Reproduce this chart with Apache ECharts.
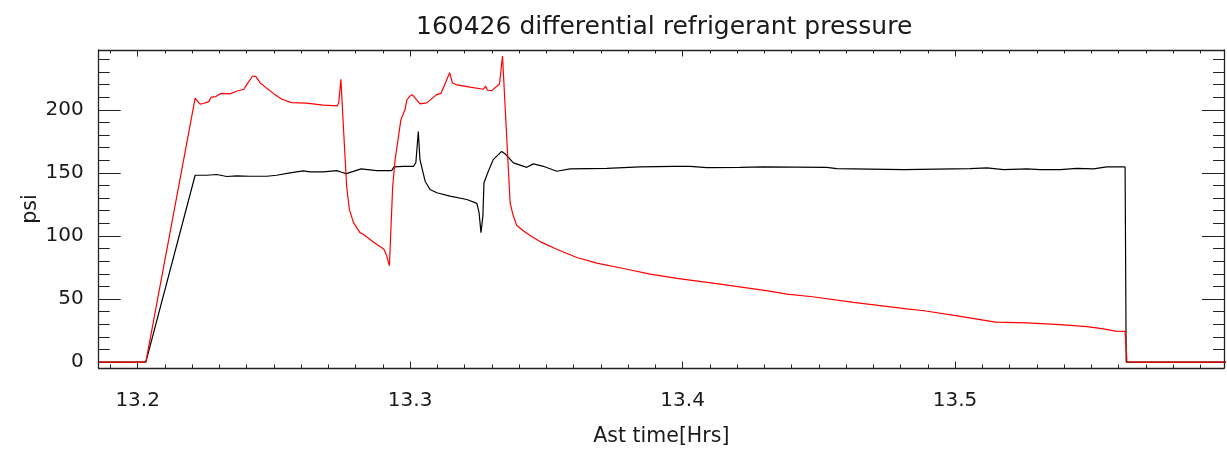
<!DOCTYPE html>
<html>
<head>
<meta charset="utf-8">
<script src="https://cdn.jsdelivr.net/npm/echarts@6/dist/echarts.min.js"></script>
<style>
html,body{margin:0;padding:0;background:#fff;}
#chart{width:1227px;height:452px;}
</style>
</head>
<body>
<div id="chart"></div>
<script>
// ---- data (time in hours, pressure in psi) ----
const titleText = "160426 differential refrigerant pressure";
const xName = "Ast time[Hrs]";
const yName = "psi";

const redTime = [13.180, 13.2030, 13.2211, 13.2229, 13.2241, 13.2261, 13.2270, 13.2287, 13.2305, 13.2339,
  13.2363, 13.2390, 13.2402, 13.2422, 13.2434, 13.2449, 13.2474, 13.2498, 13.2529, 13.2565,
  13.2620, 13.2681, 13.2733, 13.2738, 13.2746, 13.2755, 13.2767, 13.2777, 13.2792, 13.2816,
  13.2828, 13.2865, 13.2877, 13.2904, 13.2914, 13.2924, 13.2931, 13.2936, 13.2945, 13.2966,
  13.2981, 13.2988, 13.3000, 13.3008, 13.3036, 13.3061, 13.3096, 13.3113, 13.3134, 13.3145,
  13.3155, 13.3171, 13.3220, 13.3269, 13.3277, 13.3284, 13.3300, 13.3328, 13.3339, 13.3367,
  13.3377, 13.3391, 13.3416, 13.3452, 13.3477, 13.3538, 13.3612, 13.3685, 13.3783, 13.3881,
  13.3979, 13.4138, 13.4313, 13.4383, 13.4477, 13.4627, 13.4823, 13.4887, 13.5002, 13.5053,
  13.5149, 13.5264, 13.5386, 13.5484, 13.5545, 13.5588, 13.5624, 13.5631, 13.600];
const redPsi = [0, 0, 209.2, 204.5, 205.0, 206.5, 210.0, 210.5, 213.0, 212.6,
  214.7, 216.3, 220.5, 226.8, 226.3, 221.5, 217.0, 213.0, 208.4, 205.7,
  205.3, 203.7, 203.1, 205.7, 224.2, 186.8, 139.4, 121.0, 110.5, 102.6,
  101.3, 95.2, 93.4, 89.4, 84.2, 76.3, 75.5, 139.4, 160.5, 192.0,
  200.0, 207.9, 211.0, 212.0, 204.7, 205.5, 211.8, 213.0, 223.7, 229.4,
  221.5, 219.7, 217.9, 216.3, 218.7, 215.5, 215.2, 220.4, 242.6, 126.3,
  117.0, 108.4, 103.9, 98.7, 95.5, 89.4, 82.9, 78.4, 74.2, 69.7,
  66.3, 61.8, 56.5, 53.9, 51.8, 47.4, 42.1, 40.7, 36.8, 35.0,
  31.6, 31.0, 29.7, 28.1, 26.3, 24.5, 24.3, 0, 0];

const blackTime = [13.180, 13.2030, 13.2211, 13.2253, 13.2290, 13.2327, 13.2363, 13.2412, 13.2474, 13.2510,
  13.2559, 13.2608, 13.2633, 13.2681, 13.2731, 13.2749, 13.2766, 13.2820, 13.2877, 13.2932,
  13.2941, 13.2975, 13.3012, 13.3021, 13.3030, 13.3036, 13.3043, 13.3055, 13.3073, 13.3098,
  13.3146, 13.3208, 13.3245, 13.3253, 13.3260, 13.3267, 13.3271, 13.3287, 13.3305, 13.3336,
  13.3348, 13.3379, 13.3428, 13.3452, 13.3489, 13.3538, 13.3587, 13.3722, 13.3844, 13.3966,
  13.4028, 13.4089, 13.4211, 13.4297, 13.4529, 13.4566, 13.4811, 13.5055, 13.5117, 13.5178,
  13.5264, 13.5312, 13.5386, 13.5447, 13.5508, 13.5557, 13.5624, 13.5628, 13.600];
const blackPsi = [0, 0, 148.1, 148.1, 148.7, 147.1, 147.6, 147.3, 147.3, 148.1,
  150.0, 151.6, 150.8, 150.8, 151.8, 150.5, 149.4, 153.2, 151.8, 151.8,
  154.7, 155.2, 155.2, 158.0, 182.8, 160.5, 160.5, 143.4, 136.8, 134.2,
  131.5, 128.9, 125.8, 118.4, 102.6, 115.7, 142.1, 151.3, 160.5, 167.0,
  165.2, 157.9, 154.4, 157.1, 155.2, 151.3, 153.2, 153.6, 154.7, 155.2,
  155.2, 154.2, 154.4, 154.7, 154.4, 153.4, 152.6, 153.4, 153.9, 152.6,
  153.2, 152.6, 152.6, 153.6, 153.2, 154.7, 154.7, 0, 0];

// ---- axes / ticks ----
const xMin = 13.1857, xMax = 13.5987;
const yMin = -4.7, yMax = 247.4;
const xMajorTicks = [13.2, 13.3, 13.4, 13.5];
const xMinorTicks = [13.19, 13.20, 13.21, 13.22, 13.23, 13.24, 13.25, 13.26, 13.27, 13.28, 13.29,
  13.30, 13.31, 13.32, 13.33, 13.34, 13.35, 13.36, 13.37, 13.38, 13.39,
  13.40, 13.41, 13.42, 13.43, 13.44, 13.45, 13.46, 13.47, 13.48, 13.49,
  13.50, 13.51, 13.52, 13.53, 13.54, 13.55, 13.56, 13.57, 13.58, 13.59];
const yMajorTicks = [0, 50, 100, 150, 200];
const yMinorTicks = [10, 20, 30, 40, 60, 70, 80, 90, 110, 120, 130, 140, 160, 170, 180, 190, 210, 220, 230, 240];

const zip = (a, b) => a.map((v, i) => [v, b[i]]);

const FONT = "DejaVu Sans, Liberation Sans, sans-serif";
const TXT = "#1a1a1a";
const AX = "#222";

function xAx(pos, ticks, len, showLine, showLabel) {
  return {
    type: 'value', position: pos, min: xMin, max: xMax, gridIndex: 0,
    axisLine: { show: showLine, onZero: false, lineStyle: { color: AX, width: 1.3 } },
    axisTick: { show: true, inside: true, length: len, customValues: ticks, lineStyle: { color: AX, width: 1 } },
    axisLabel: showLabel ? { show: true, customValues: xMajorTicks, margin: 23, fontSize: 20, color: TXT, fontFamily: FONT,
      formatter: v => v.toFixed(1) } : { show: false },
    splitLine: { show: false }
  };
}
function yAx(pos, ticks, len, showLine, showLabel) {
  return {
    type: 'value', position: pos, min: yMin, max: yMax, gridIndex: 0,
    axisLine: { show: showLine, onZero: false, lineStyle: { color: AX, width: 1.3 } },
    axisTick: { show: true, inside: true, length: len, customValues: ticks, lineStyle: { color: AX, width: 1 } },
    axisLabel: showLabel ? { show: true, customValues: yMajorTicks, margin: 15, fontSize: 20, color: TXT, fontFamily: FONT } : { show: false },
    splitLine: { show: false }
  };
}

const xAxes = [xAx('bottom', xMajorTicks, 6.5, true, true), xAx('bottom', xMinorTicks, 3.5, false, false),
  xAx('top', xMajorTicks, 6.5, true, false), xAx('top', xMinorTicks, 3.5, false, false)];
xAxes[0].name = xName;
xAxes[0].nameLocation = 'middle';
xAxes[0].nameGap = 58;
xAxes[0].nameMoveOverlap = false;
xAxes[0].nameTextStyle = { fontSize: 20.5, color: TXT, fontFamily: FONT };

const yAxes = [yAx('left', yMajorTicks, 22, true, true), yAx('left', yMinorTicks, 11, false, false),
  yAx('right', yMajorTicks, 22, true, false), yAx('right', yMinorTicks, 11, false, false)];
yAxes[0].name = yName;
yAxes[0].nameLocation = 'middle';
yAxes[0].nameGap = 58;
yAxes[0].nameMoveOverlap = false;
yAxes[0].nameTextStyle = { fontSize: 20.5, color: TXT, fontFamily: FONT };

const chart = echarts.init(document.getElementById('chart'), null, { renderer: 'canvas' });
chart.setOption({
  animation: false,
  backgroundColor: '#fff',
  title: { text: titleText, left: 411, top: 10,
    textStyle: { fontSize: 25, fontWeight: 'normal', color: TXT, fontFamily: FONT } },
  grid: { left: 98.7, right: 3, top: 50, bottom: 82.7, containLabel: false },
  xAxis: xAxes,
  yAxis: yAxes,
  series: [
    { name: 'black', type: 'line', xAxisIndex: 0, yAxisIndex: 0, data: zip(blackTime, blackPsi),
      showSymbol: false, symbol: 'none', lineStyle: { color: '#000', width: 1.2 }, z: 2 },
    { name: 'red', type: 'line', xAxisIndex: 0, yAxisIndex: 0, data: zip(redTime, redPsi),
      showSymbol: false, symbol: 'none', lineStyle: { color: '#ff0000', width: 1.2 }, z: 3 }
  ]
});
</script>
</body>
</html>
